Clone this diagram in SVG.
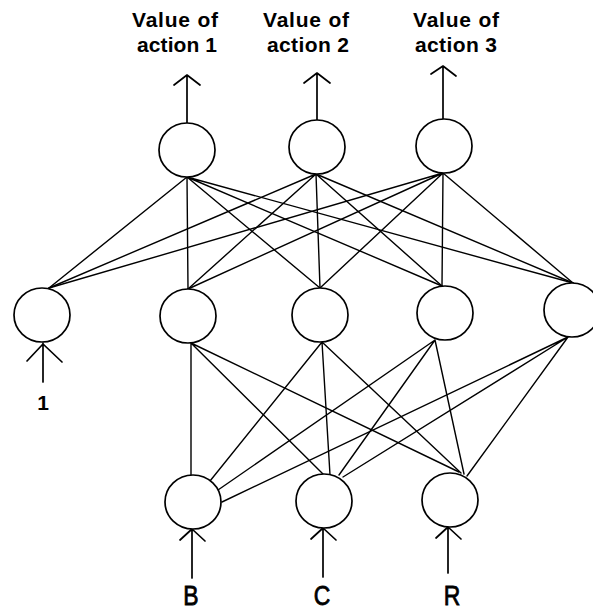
<svg xmlns="http://www.w3.org/2000/svg" width="593" height="610" viewBox="0 0 593 610">
  <style>
    .unit { fill: #fff; stroke: #000; stroke-width: 1.7; }
    .wire { stroke: #000; stroke-width: 1.4; fill: none; stroke-linecap: round; }
    .arrow { stroke: #000; stroke-width: 1.7; fill: none; stroke-linecap: round; stroke-linejoin: round; }
    .head { font-family: "Liberation Sans", Arial, sans-serif; font-weight: bold; font-size: 21px; fill: #000; text-anchor: middle; }
    .inlabel { font-family: "Liberation Sans", Arial, sans-serif; font-size: 27px; fill: #000; stroke: #000; stroke-width: 0.8; text-anchor: middle; }
    .bias { font-family: "Liberation Sans", Arial, sans-serif; font-weight: bold; font-size: 21px; fill: #000; text-anchor: middle; }
  </style>
  <rect width="593" height="610" fill="#fff"/>

  <!-- weighted connections -->
  <g id="connectors">
    <!-- output layer to hidden layer (fully connected) -->
    <path class="wire" d="M187,177 L49,288 M187,177 L188,289 M187,177 L320,288 M187,177 L442,286 M187,177 L573,283"/>
    <path class="wire" d="M316,174 L49,288 M316,174 L188,289 M316,174 L320,288 M316,174 L442,286 M316,174 L573,283"/>
    <path class="wire" d="M443,173 L49,288 M443,173 L188,289 M443,173 L320,288 M443,173 L442,286 M443,173 L573,283"/>
    <!-- hidden layer to inputs -->
    <path class="wire" d="M191,343 L191,475 M191,343 L323,474 M191,343 L459,472"/>
    <path class="wire" d="M322,342 L210,481 M322,342 L330,475 M322,342 L461,473"/>
    <path class="wire" d="M435,340 L218,490 M435,340 L339,475 M435,340 L464,474"/>
    <path class="wire" d="M568,337 L222,502 M568,337 L343,477 M568,337 L467,476"/>
    <!-- output arrows -->
    <path class="arrow" d="M187,123 L187,75 M174,85 L187,75 L200,85"/>
    <path class="arrow" d="M317,120 L317,73 M304,83 L317,73 L330,83"/>
    <path class="arrow" d="M443,119 L443,66 M431,74 L443,66 L456,76"/>
    <!-- input arrows -->
    <path class="arrow" d="M43,343 L43,382 M27,361 L43,344 L62,362"/>
    <path class="arrow" d="M192,529 L192,578 M180,540 L192,529 L205,541"/>
    <path class="arrow" d="M323,528 L323,577 M311,539 L323,528 L336,540"/>
    <path class="arrow" d="M448,527 L448,573 M436,538 L448,527 L461,539"/>
  </g>

  <!-- output layer -->
  <g id="out1">
    <ellipse class="unit" cx="187" cy="150" rx="28" ry="27"/>
    <text class="head" x="175" y="27" textLength="86" lengthAdjust="spacing">Value of</text>
    <text class="head" x="177" y="52" textLength="80" lengthAdjust="spacing">action 1</text>
  </g>
  <g id="out2">
    <ellipse class="unit" cx="317" cy="147" rx="28" ry="27"/>
    <text class="head" x="306" y="27" textLength="86" lengthAdjust="spacing">Value of</text>
    <text class="head" x="308" y="52" textLength="82" lengthAdjust="spacing">action 2</text>
  </g>
  <g id="out3">
    <ellipse class="unit" cx="444" cy="146" rx="28" ry="27"/>
    <text class="head" x="456" y="27" textLength="86" lengthAdjust="spacing">Value of</text>
    <text class="head" x="456" y="52" textLength="82" lengthAdjust="spacing">action 3</text>
  </g>

  <!-- hidden layer -->
  <g id="hidden1">
    <ellipse class="unit" cx="42" cy="315" rx="28" ry="27"/>
    <text class="bias" x="43" y="410">1</text>
  </g>
  <g id="hidden2"><ellipse class="unit" cx="188" cy="316" rx="28" ry="27"/></g>
  <g id="hidden3"><ellipse class="unit" cx="320" cy="315" rx="28" ry="27"/></g>
  <g id="hidden4"><ellipse class="unit" cx="445" cy="313" rx="28" ry="27"/></g>
  <g id="hidden5"><ellipse class="unit" cx="572" cy="310" rx="28" ry="27"/></g>

  <!-- input layer -->
  <g id="inputB">
    <ellipse class="unit" cx="193" cy="502" rx="28" ry="27"/>
    <text class="inlabel" transform="translate(191,605) scale(0.85,1)">B</text>
  </g>
  <g id="inputC">
    <ellipse class="unit" cx="324" cy="501" rx="28" ry="27"/>
    <text class="inlabel" transform="translate(322,605) scale(0.85,1)">C</text>
  </g>
  <g id="inputR">
    <ellipse class="unit" cx="450" cy="500" rx="28" ry="27"/>
    <text class="inlabel" transform="translate(452,605) scale(0.85,1)">R</text>
  </g>
</svg>
